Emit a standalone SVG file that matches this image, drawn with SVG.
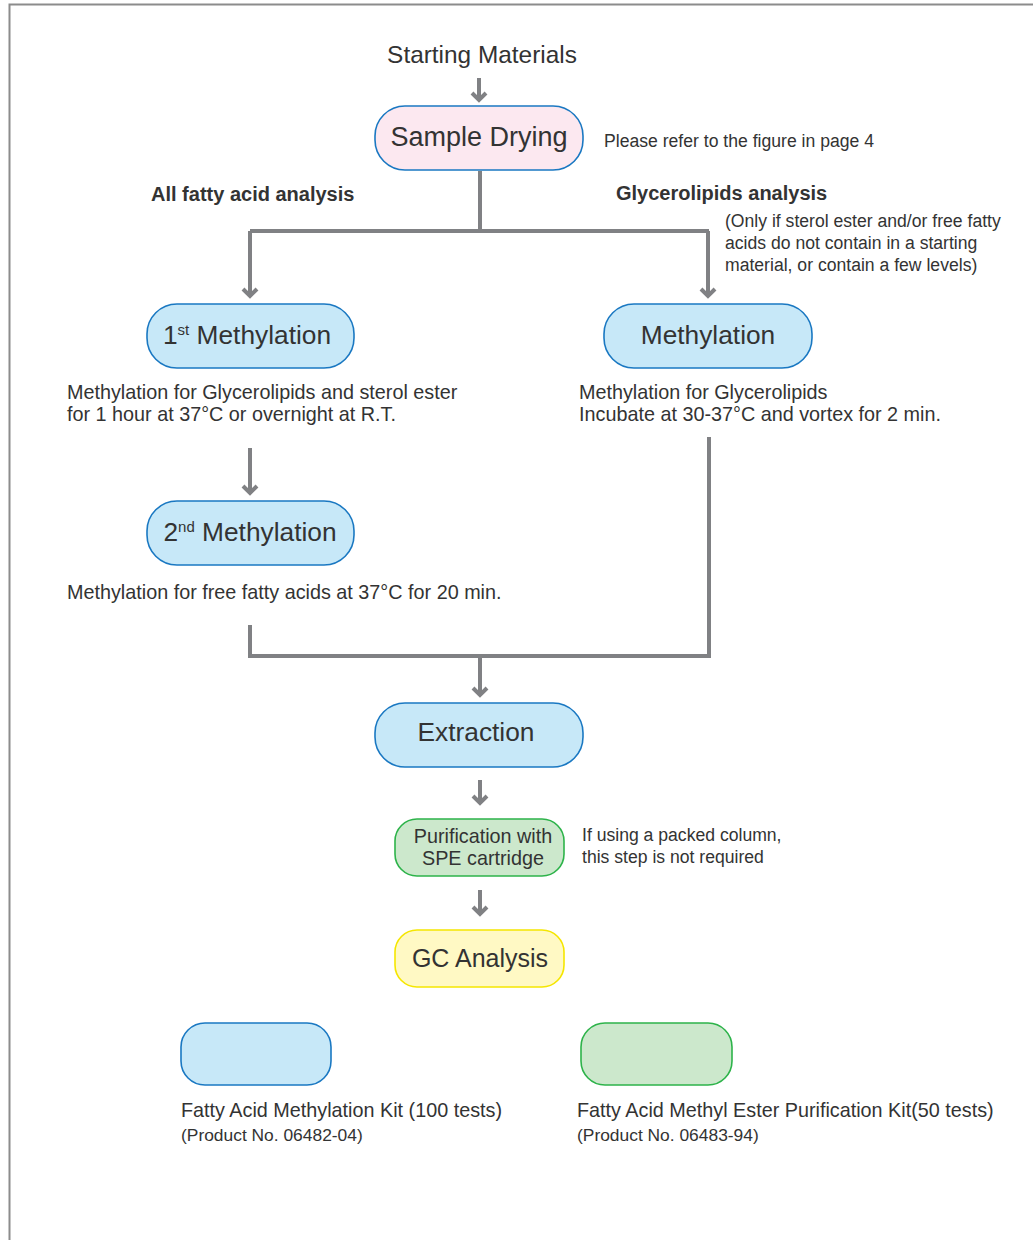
<svg xmlns="http://www.w3.org/2000/svg" width="1033" height="1240" viewBox="0 0 1033 1240">
<style>
text{font-family:"Liberation Sans",Arial,sans-serif;fill:#333333}
.conn{fill:none;stroke:#808184;stroke-width:4}
.head{fill:none;stroke:#808184;stroke-width:4;stroke-linejoin:miter}
.blue{fill:#c7e8f8;stroke:#1a78c2;stroke-width:1.6}
.pink{fill:#fce8f0;stroke:#1a78c2;stroke-width:1.6}
.green{fill:#cce8cc;stroke:#2db34a;stroke-width:1.6}
.yellow{fill:#fff9c4;stroke:#f5e600;stroke-width:1.6}
.big{font-size:26.3px}
.mid{font-size:19.8px}
.sm{font-size:17.6px}
.xs{font-size:17.4px}
.b{font-weight:bold;font-size:20px}
</style>
<rect x="9.5" y="4.5" width="1040" height="1250" fill="#ffffff" stroke="#8c8c8c" stroke-width="2"/>
<text x="482" y="63" text-anchor="middle" style="font-size:24.4px">Starting Materials</text>
<g id="connectors">
<path class="conn" d="M479,78 V99"/><path class="head" d="M472,93 L479,100 L486,93"/>
<path class="conn" d="M480,171 V231 M250,231 H709 M250,231 V295 M708,231 V295"/>
<path class="head" d="M243,289 L250,296 L257,289"/>
<path class="head" d="M701,289 L708,296 L715,289"/>
<path class="conn" d="M250,448 V492"/><path class="head" d="M243,486 L250,493 L257,486"/>
<path class="conn" d="M250,625 V656 H709 V437"/>
<path class="conn" d="M480,657 V694"/><path class="head" d="M473,688 L480,695 L487,688"/>
<path class="conn" d="M480,780 V802"/><path class="head" d="M473,796 L480,803 L487,796"/>
<path class="conn" d="M480,890 V913"/><path class="head" d="M473,907 L480,914 L487,907"/>
</g>
<g id="sample-drying">
<rect class="pink" x="375" y="106" width="208" height="64" rx="30"/>
<text class="big" x="479" y="146" text-anchor="middle" style="font-size:27px">Sample Drying</text>
</g>
<text class="sm" x="604" y="147">Please refer to the figure in page 4</text>
<text class="b" x="151" y="201">All fatty acid analysis</text>
<text class="b" x="616" y="200">Glycerolipids analysis</text>
<text class="sm" x="725" y="227">(Only if sterol ester and/or free fatty</text>
<text class="sm" x="725" y="249">acids do not contain in a starting</text>
<text class="sm" x="725" y="271">material, or contain a few levels)</text>
<g id="first-methylation">
<rect class="blue" x="147" y="304" width="207" height="64" rx="30"/>
<text class="big" x="247" y="344" text-anchor="middle">1<tspan style="font-size:15px" dy="-9">st</tspan><tspan dy="9"> Methylation</tspan></text>
</g>
<g id="methylation">
<rect class="blue" x="604" y="304" width="208" height="64" rx="30"/>
<text class="big" x="708" y="344" text-anchor="middle">Methylation</text>
</g>
<text class="mid" x="67" y="399">Methylation for Glycerolipids and sterol ester</text>
<text class="mid" x="67" y="421">for 1 hour at 37°C or overnight at R.T.</text>
<text class="mid" x="579" y="399">Methylation for Glycerolipids</text>
<text class="mid" x="579" y="421">Incubate at 30-37°C and vortex for 2 min.</text>
<g id="second-methylation">
<rect class="blue" x="147" y="501" width="207" height="64" rx="30"/>
<text class="big" x="250" y="541" text-anchor="middle">2<tspan style="font-size:15px" dy="-9">nd</tspan><tspan dy="9"> Methylation</tspan></text>
</g>
<text class="mid" x="67" y="599">Methylation for free fatty acids at 37°C for 20 min.</text>
<g id="extraction">
<rect class="blue" x="375" y="703" width="208" height="64" rx="30"/>
<text class="big" x="476" y="741" text-anchor="middle">Extraction</text>
</g>
<g id="purification">
<rect class="green" x="395" y="819" width="169" height="57" rx="22"/>
<text class="mid" x="483" y="843" text-anchor="middle">Purification with</text>
<text class="mid" x="483" y="865" text-anchor="middle">SPE cartridge</text>
</g>
<text class="sm" x="582" y="841">If using a packed column,</text>
<text class="sm" x="582" y="863">this step is not required</text>
<g id="gc-analysis">
<rect class="yellow" x="395" y="930" width="169" height="57" rx="22"/>
<text x="480" y="967" text-anchor="middle" style="font-size:25px">GC Analysis</text>
</g>
<g id="legend-methylation-kit">
<rect class="blue" x="181" y="1023" width="150" height="62" rx="24"/>
<text class="mid" x="181" y="1117">Fatty Acid Methylation Kit (100 tests)</text>
<text class="xs" x="181" y="1141">(Product No. 06482-04)</text>
</g>
<g id="legend-purification-kit">
<rect class="green" x="581" y="1023" width="151" height="62" rx="24"/>
<text class="mid" x="577" y="1117">Fatty Acid Methyl Ester Purification Kit(50 tests)</text>
<text class="xs" x="577" y="1141">(Product No. 06483-94)</text>
</g>
</svg>
